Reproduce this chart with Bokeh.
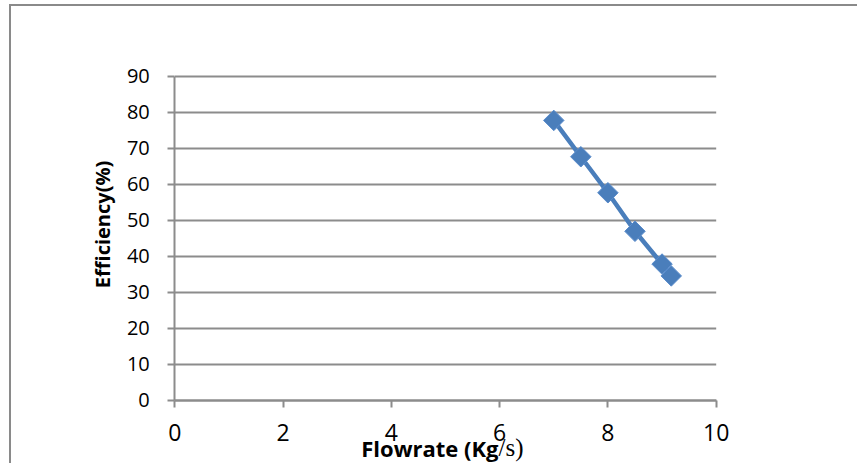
import numpy as np
from bokeh.plotting import figure
from bokeh.models import Range1d, FixedTicker, Label
from bokeh.embed import file_html
from bokeh.resources import INLINE

flowrate = [7.0, 7.5, 8.0, 8.5, 9.0, 9.17]
efficiency = [77.8, 67.7, 57.7, 47.0, 37.9, 34.6]
x_ticks = [0, 2, 4, 6, 8, 10]
y_ticks = [0, 10, 20, 30, 40, 50, 60, 70, 80, 90]

GRID = "#8c8c8c"
BLUE = "#4a7ebb"
FONT = "Open Sans"

p = figure(width=848, height=459, output_backend="svg", toolbar_location=None,
           x_range=Range1d(-3.016, 12.647), y_range=Range1d(-18.06, 109.44),
           min_border=0)
p.styles = {"margin-left": "9px", "margin-top": "4px",
            "border-left": "2px solid #8a8a8a", "border-top": "2px solid #8a8a8a"}
p.outline_line_color = None
p.background_fill_color = "white"
p.border_fill_color = "white"

p.xgrid.grid_line_color = None
p.ygrid.grid_line_color = None

# horizontal gridlines limited to the x extent of the axis (0..10)
p.segment(x0=[x_ticks[0]] * len(y_ticks), y0=y_ticks,
          x1=[x_ticks[-1]] * len(y_ticks), y1=y_ticks,
          line_color=GRID, line_width=2, level="underlay")

p.xaxis.ticker = FixedTicker(ticks=x_ticks)
p.yaxis.ticker = FixedTicker(ticks=y_ticks)
p.xaxis.fixed_location = 0
p.yaxis.fixed_location = 0
p.xaxis.bounds = (0, 10)
p.yaxis.bounds = (0, 90)
for ax in (p.xaxis[0], p.yaxis[0]):
    ax.axis_line_color = GRID
    ax.axis_line_width = 2
    ax.major_tick_line_color = GRID
    ax.major_tick_line_width = 2
    ax.major_tick_in = 0
    ax.major_tick_out = 7
    ax.minor_tick_line_color = None
    ax.major_label_text_font = FONT
    ax.major_label_text_color = "black"

p.yaxis.major_label_text_font_size = "20px"
p.yaxis.major_label_standoff = 18
p.xaxis.major_label_text_font_size = "23px"
p.xaxis.major_label_standoff = 17

p.line(flowrate, efficiency, line_color=BLUE, line_width=4.5)
p.scatter(flowrate, efficiency, marker="square", size=14.5, angle=np.pi / 4,
          fill_color=BLUE, line_color="#5a8ccc", line_width=1)

ytitle = Label(x=-1.335, y=48.9, text="Efficiency(%)", text_font=FONT, text_font_style="bold",
               text_font_size="20px", text_align="center", text_baseline="middle",
               angle=np.pi / 2, text_color="black")
lab1 = Label(x=5.98, y=-13.1, text="Flowrate (Kg", text_font=FONT, text_font_style="bold",
             text_font_size="22px", text_align="right", text_baseline="alphabetic",
             text_color="black")
lab2 = Label(x=5.98, y=-13.1, text="/s)", text_font="Liberation Serif",
             text_font_size="25px", text_align="left", text_baseline="alphabetic",
             text_color="black")
p.add_layout(ytitle)
p.add_layout(lab1)
p.add_layout(lab2)

open("out.html", "w").write(file_html(p, INLINE))
